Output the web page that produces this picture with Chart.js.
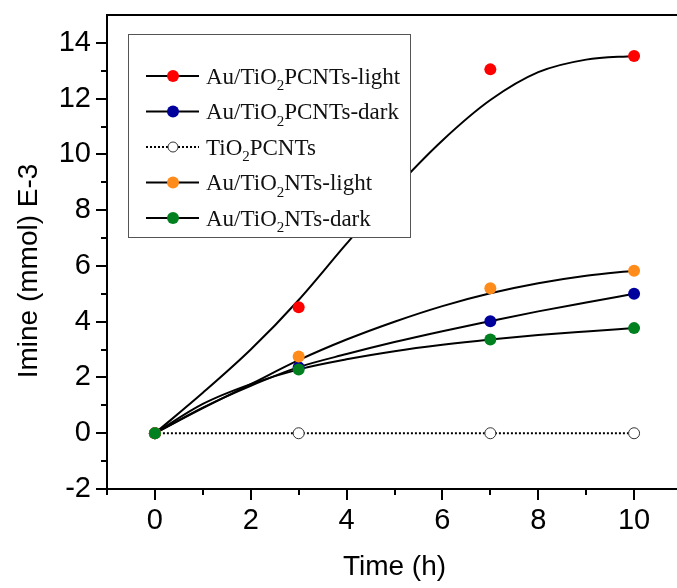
<!DOCTYPE html>
<html lang="en">
<head>
<meta charset="UTF-8">
<title>Imine vs time</title>
<script src="https://cdn.jsdelivr.net/npm/chart.js"></script>
<style>
    html, body {
        margin: 0;
        padding: 0;
        background: #fff;
        overflow: hidden;
    }
    .chart-box {
        position: relative;
        width: 700px;
        height: 588px;
    }
</style>
</head>
<body>
<div class="chart-box"><canvas id="imine-chart"></canvas></div>
<script>
// measured points (h, mmol E-3)
const times = [0, 3, 7, 10];
const pcntsLight = [0, 4.52, 13.05, 13.53];
const pcntsDark = [0, 2.37, 4.02, 5.0];
const tio2Pcnts = [0, 0, 0, 0];
const ntsLight = [0, 2.75, 5.2, 5.83];
const ntsDark = [0, 2.29, 3.36, 3.77];

// fitted curves
const fitTimes = [0, 1, 2, 3, 4, 5, 6, 7, 8, 9, 10];
const pcntsLightFit = [0, 1.45, 3.0, 4.78, 6.8, 8.75, 10.5, 11.95, 12.95, 13.4, 13.53];
const pcntsDarkFit = [0, 0.92, 1.7, 2.37, 2.84, 3.27, 3.66, 4.02, 4.37, 4.69, 5.0];
const ntsLightFit = [0, 0.9, 1.76, 2.62, 3.36, 4.0, 4.56, 5.02, 5.38, 5.65, 5.83];
const ntsDarkFit = [0, 1.05, 1.76, 2.29, 2.65, 2.94, 3.17, 3.36, 3.52, 3.65, 3.77];

const seriesNames = ['Au/TiO2PCNTs-light', 'Au/TiO2PCNTs-dark', 'TiO2PCNTs', 'Au/TiO2NTs-light', 'Au/TiO2NTs-dark'];
const seriesColors = ['#ff0000', '#00009c', '#ffffff', '#ff8c1a', '#00801f'];

const xMajorTicks = [0, 2, 4, 6, 8, 10];
const xMinorTicks = [-1, 1, 3, 5, 7, 9, 11];
const yMajorTicks = [-2, 0, 2, 4, 6, 8, 10, 12, 14];
const yMinorTicks = [-1, 1, 3, 5, 7, 9, 11, 13];

const sansFont = '"Liberation Sans", Arial, sans-serif';
const serifFont = '"Liberation Serif", "Times New Roman", serif';

function toXY(xs, ys) {
    return xs.map((x, i) => ({ x: x, y: ys[i] }));
}

function fitLine(ys) {
    return {
        data: toXY(fitTimes, ys),
        borderColor: '#000',
        borderWidth: 2,
        pointRadius: 0,
        cubicInterpolationMode: 'monotone',
        order: 10
    };
}

function markers(ys, color, order) {
    return {
        data: toXY(times, ys),
        showLine: false,
        pointRadius: 6,
        pointBorderWidth: 0,
        pointBackgroundColor: color,
        pointBorderColor: color,
        order: order
    };
}

// axis frame extras: minor ticks, top line, rotated y title, key box
const framePlugin = {
    id: 'frameExtras',
    afterDraw(chart) {
        const ctx = chart.ctx;
        const area = chart.chartArea;
        const xs = chart.scales.x;
        const ys = chart.scales.y;
        ctx.save();
        ctx.strokeStyle = '#000';
        ctx.lineWidth = 2;
        ctx.beginPath();
        xMinorTicks.forEach(v => {
            const px = Math.round(xs.getPixelForValue(v));
            ctx.moveTo(px, area.bottom);
            ctx.lineTo(px, area.bottom + 6);
        });
        yMinorTicks.forEach(v => {
            const py = Math.round(ys.getPixelForValue(v));
            ctx.moveTo(area.left - 6, py);
            ctx.lineTo(area.left, py);
        });
        ctx.moveTo(area.left - 1, area.top);
        ctx.lineTo(chart.width, area.top);
        ctx.stroke();

        // y title
        ctx.fillStyle = '#000';
        ctx.font = '28px ' + sansFont;
        ctx.textAlign = 'center';
        ctx.textBaseline = 'alphabetic';
        ctx.translate(37, 271);
        ctx.rotate(-Math.PI / 2);
        ctx.fillText('Imine (mmol) E-3', 0, 0);
        ctx.restore();

        // key
        const bx = area.left + 21;
        const by = area.top + 19;
        ctx.save();
        ctx.fillStyle = '#fff';
        ctx.fillRect(bx, by, 282, 203);
        ctx.strokeStyle = '#555';
        ctx.lineWidth = 1;
        ctx.strokeRect(bx + 0.5, by + 0.5, 282, 203);
        seriesNames.forEach((name, i) => {
            const ry = by + 42 + i * 35.5;
            ctx.strokeStyle = '#000';
            ctx.lineWidth = 2;
            ctx.setLineDash(i === 2 ? [2, 2] : []);
            ctx.beginPath();
            ctx.moveTo(bx + 18, ry);
            ctx.lineTo(bx + 71, ry);
            ctx.stroke();
            ctx.setLineDash([]);
            ctx.beginPath();
            ctx.arc(bx + 45, ry, i === 2 ? 5 : 6, 0, Math.PI * 2);
            ctx.fillStyle = seriesColors[i];
            ctx.fill();
            if (i === 2) {
                ctx.lineWidth = 1;
                ctx.strokeStyle = '#333';
                ctx.stroke();
            }
            drawName(ctx, name, bx + 78, ry + 7.5);
        });
        ctx.restore();
    }
};

function drawName(ctx, text, x, y) {
    const m = text.match(/^(.*TiO)2(.*)$/);
    ctx.fillStyle = '#111';
    ctx.textAlign = 'left';
    ctx.textBaseline = 'alphabetic';
    ctx.font = '23px ' + serifFont;
    ctx.fillText(m[1], x, y);
    x += ctx.measureText(m[1]).width;
    ctx.font = '15px ' + serifFont;
    ctx.fillText('2', x, y + 6.5);
    x += ctx.measureText('2').width;
    ctx.font = '23px ' + serifFont;
    ctx.fillText(m[2], x, y);
}

const ctx = document.getElementById('imine-chart').getContext('2d');
new Chart(ctx, {
    type: 'line',
    data: {
        datasets: [
            fitLine(pcntsLightFit),
            fitLine(pcntsDarkFit),
            fitLine(ntsLightFit),
            fitLine(ntsDarkFit),
            {
                data: toXY(times, tio2Pcnts),
                borderColor: '#000',
                borderWidth: 2,
                borderDash: [2, 2],
                pointRadius: 5.5,
                pointBorderWidth: 1,
                pointBorderColor: '#333',
                pointBackgroundColor: '#fff',
                order: 3
            },
            markers(pcntsLight, seriesColors[0], 5),
            markers(pcntsDark, seriesColors[1], 4),
            markers(ntsLight, seriesColors[3], 2),
            markers(ntsDark, seriesColors[4], 1)
        ]
    },
    options: {
        responsive: true,
        maintainAspectRatio: false,
        animation: false,
        layout: { padding: { top: 15, right: 18, bottom: 0, left: 0 } },
        scales: {
            x: {
                type: 'linear',
                min: -1,
                max: 11,
                afterBuildTicks: s => { s.ticks = xMajorTicks.map(v => ({ value: v })); },
                afterFit: s => { s.height = 99; },
                border: { display: true, color: '#000', width: 2 },
                grid: { display: true, drawOnChartArea: false, drawTicks: true, tickLength: 11, lineWidth: 2, color: '#000' },
                ticks: { color: '#000', font: { family: sansFont, size: 29 }, padding: 4, maxRotation: 0, autoSkip: false },
                title: { display: true, text: 'Time (h)', color: '#000', font: { family: sansFont, size: 28 }, padding: { top: 0, bottom: 4 } }
            },
            y: {
                type: 'linear',
                min: -2,
                max: 15,
                afterBuildTicks: s => { s.ticks = yMajorTicks.map(v => ({ value: v })); },
                afterFit: s => { s.width = 107; },
                border: { display: true, color: '#000', width: 2 },
                grid: { display: true, drawOnChartArea: false, drawTicks: true, tickLength: 11, lineWidth: 2, color: '#000' },
                ticks: { color: '#000', font: { family: sansFont, size: 29, lineHeight: 0.6 }, padding: 5, autoSkip: false }
            }
        },
        plugins: {
            legend: { display: false },
            tooltip: { enabled: false }
        }
    },
    plugins: [framePlugin]
});
</script>
</body>
</html>
